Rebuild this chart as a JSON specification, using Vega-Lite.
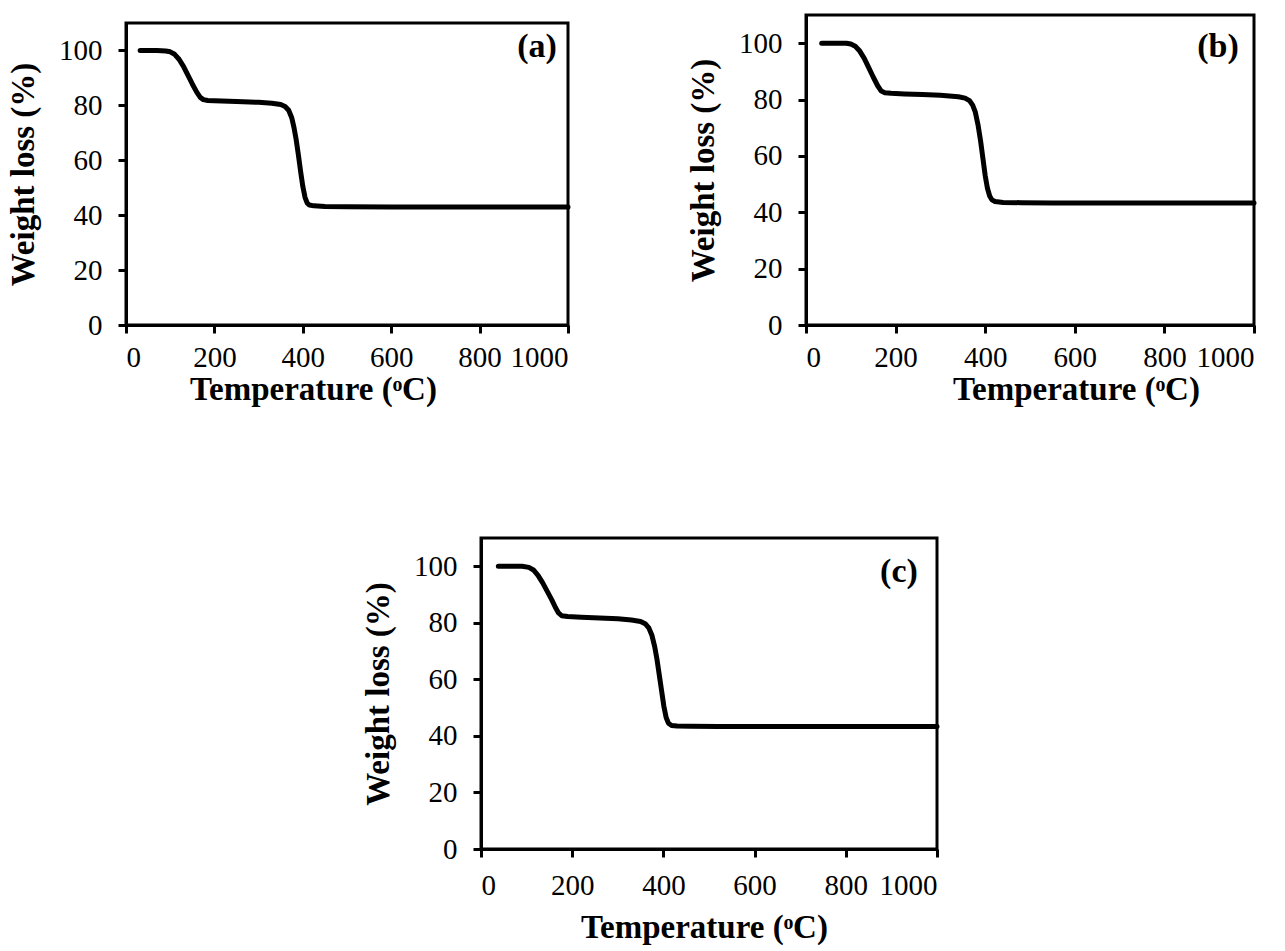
{
  "$schema": "https://vega.github.io/schema/vega-lite/v6.json",
  "padding": {"left": 6, "top": 13, "right": 0, "bottom": 0},
  "background": "white",
  "spacing": 128,
  "config": {
    "font": "Liberation Serif",
    "view": {"stroke": "black", "strokeWidth": 3},
    "axis": {"domainColor": "black", "domainWidth": 3, "tickColor": "black", "tickWidth": 3, "tickSize": 8, "labelFont": "Liberation Serif", "labelFontSize": 29, "labelColor": "black", "titleFont": "Liberation Serif", "titleFontSize": 33, "titleFontWeight": "bold", "titleColor": "black", "grid": false}
  },
  "datasets": {
    "a": [
      {"temperature": 32, "weight": 100}, {"temperature": 50, "weight": 100}, {"temperature": 70, "weight": 100}, {"temperature": 90, "weight": 99.8}, {"temperature": 100, "weight": 99.5}, {"temperature": 110, "weight": 98.6}, {"temperature": 120, "weight": 96.8}, {"temperature": 130, "weight": 94.2}, {"temperature": 140, "weight": 91}, {"temperature": 150, "weight": 87.8}, {"temperature": 160, "weight": 84.8}, {"temperature": 168, "weight": 82.9}, {"temperature": 175, "weight": 82.1}, {"temperature": 185, "weight": 81.8}, {"temperature": 200, "weight": 81.7}, {"temperature": 250, "weight": 81.4}, {"temperature": 300, "weight": 81.1}, {"temperature": 330, "weight": 80.8}, {"temperature": 350, "weight": 80.3}, {"temperature": 360, "weight": 79.6}, {"temperature": 368, "weight": 78.2}, {"temperature": 375, "weight": 75.5}, {"temperature": 380, "weight": 72}, {"temperature": 385, "weight": 67.5}, {"temperature": 390, "weight": 62}, {"temperature": 395, "weight": 56}, {"temperature": 400, "weight": 50.5}, {"temperature": 405, "weight": 46.5}, {"temperature": 410, "weight": 44.4}, {"temperature": 415, "weight": 43.7}, {"temperature": 425, "weight": 43.4}, {"temperature": 450, "weight": 43.2}, {"temperature": 500, "weight": 43.1}, {"temperature": 600, "weight": 43}, {"temperature": 700, "weight": 43}, {"temperature": 800, "weight": 43}, {"temperature": 900, "weight": 43}, {"temperature": 1000, "weight": 43}
    ],
    "b": [
      {"temperature": 35, "weight": 100}, {"temperature": 60, "weight": 100}, {"temperature": 90, "weight": 100}, {"temperature": 100, "weight": 99.7}, {"temperature": 110, "weight": 98.9}, {"temperature": 120, "weight": 97.2}, {"temperature": 130, "weight": 94.6}, {"temperature": 140, "weight": 91.3}, {"temperature": 150, "weight": 88}, {"temperature": 160, "weight": 84.9}, {"temperature": 168, "weight": 83}, {"temperature": 176, "weight": 82.4}, {"temperature": 190, "weight": 82.2}, {"temperature": 220, "weight": 82}, {"temperature": 260, "weight": 81.8}, {"temperature": 300, "weight": 81.5}, {"temperature": 340, "weight": 81}, {"temperature": 355, "weight": 80.5}, {"temperature": 365, "weight": 79.6}, {"temperature": 372, "weight": 78}, {"temperature": 378, "weight": 75.5}, {"temperature": 384, "weight": 71}, {"temperature": 390, "weight": 65}, {"temperature": 395, "weight": 59}, {"temperature": 400, "weight": 53}, {"temperature": 405, "weight": 48.5}, {"temperature": 410, "weight": 45.8}, {"temperature": 415, "weight": 44.4}, {"temperature": 422, "weight": 43.8}, {"temperature": 440, "weight": 43.5}, {"temperature": 480, "weight": 43.4}, {"temperature": 550, "weight": 43.3}, {"temperature": 650, "weight": 43.3}, {"temperature": 800, "weight": 43.3}, {"temperature": 900, "weight": 43.3}, {"temperature": 1000, "weight": 43.3}
    ],
    "c": [
      {"temperature": 38, "weight": 100}, {"temperature": 60, "weight": 100}, {"temperature": 90, "weight": 100}, {"temperature": 105, "weight": 99.6}, {"temperature": 115, "weight": 98.7}, {"temperature": 125, "weight": 96.8}, {"temperature": 135, "weight": 94.2}, {"temperature": 145, "weight": 91.2}, {"temperature": 155, "weight": 88.2}, {"temperature": 163, "weight": 85.5}, {"temperature": 170, "weight": 83.5}, {"temperature": 177, "weight": 82.5}, {"temperature": 190, "weight": 82.2}, {"temperature": 220, "weight": 82}, {"temperature": 260, "weight": 81.7}, {"temperature": 300, "weight": 81.4}, {"temperature": 330, "weight": 81}, {"temperature": 350, "weight": 80.5}, {"temperature": 360, "weight": 79.7}, {"temperature": 368, "weight": 78.2}, {"temperature": 375, "weight": 75.5}, {"temperature": 381, "weight": 71.5}, {"temperature": 386, "weight": 67}, {"temperature": 391, "weight": 61.5}, {"temperature": 396, "weight": 56}, {"temperature": 401, "weight": 50.5}, {"temperature": 406, "weight": 46.5}, {"temperature": 411, "weight": 44.5}, {"temperature": 418, "weight": 43.7}, {"temperature": 430, "weight": 43.5}, {"temperature": 460, "weight": 43.4}, {"temperature": 520, "weight": 43.3}, {"temperature": 650, "weight": 43.3}, {"temperature": 800, "weight": 43.3}, {"temperature": 1000, "weight": 43.3}
    ]
  },
  "vconcat": [
    {
      "spacing": 114,
      "hconcat": [
        {
          "spacing": 5,
          "vconcat": [
            {
              "width": 100, "height": 1,
              "view": {"stroke": null},
              "data": {"values": [{"label": ""}]},
              "mark": {"type": "point", "opacity": 0, "size": 0},
              "encoding": {}
            },
            {
              "width": 442, "height": 302,
              "layer": [
                {
                  "data": {"name": "a"},
                  "mark": {"type": "line", "color": "black", "strokeWidth": 5, "strokeCap": "round", "strokeJoin": "round"},
                  "encoding": {
                    "x": {"field": "temperature", "type": "quantitative", "scale": {"domain": [0, 1000], "nice": false}, "axis": {"values": [0, 200, 400, 600, 800, 1000], "format": "d", "title": "Temperature (ᵒC)", "labelPadding": 10, "titlePadding": 1, "titleX": 187}},
                    "y": {"field": "weight", "type": "quantitative", "scale": {"domain": [0, 110], "nice": false}, "axis": {"values": [0, 20, 40, 60, 80, 100], "title": "Weight loss (%)", "labelPadding": 16, "titlePadding": 18}}
                  }
                },
                {
                  "data": {"values": [{"label": "(a)"}]},
                  "mark": {"type": "text", "fontSize": 34, "fontWeight": "bold", "align": "right", "baseline": "alphabetic", "font": "Liberation Serif", "color": "black"},
                  "encoding": {"text": {"field": "label"}, "x": {"datum": 975, "type": "quantitative"}, "y": {"datum": 97.5, "type": "quantitative"}}
                }
              ]
            }
          ]
        },
        {
          "width": 448, "height": 310,
          "layer": [
            {
              "data": {"name": "b"},
              "mark": {"type": "line", "color": "black", "strokeWidth": 5, "strokeCap": "round", "strokeJoin": "round"},
              "encoding": {
                "x": {"field": "temperature", "type": "quantitative", "scale": {"domain": [0, 1000], "nice": false}, "axis": {"values": [0, 200, 400, 600, 800, 1000], "format": "d", "title": "Temperature (ᵒC)", "labelPadding": 10, "titlePadding": 1, "titleX": 270}},
                "y": {"field": "weight", "type": "quantitative", "scale": {"domain": [0, 110], "nice": false}, "axis": {"values": [0, 20, 40, 60, 80, 100], "title": "Weight loss (%)", "labelPadding": 16, "titlePadding": 18}}
              }
            },
            {
              "data": {"values": [{"label": "(b)"}]},
              "mark": {"type": "text", "fontSize": 34, "fontWeight": "bold", "align": "right", "baseline": "alphabetic", "font": "Liberation Serif", "color": "black"},
              "encoding": {"text": {"field": "label"}, "x": {"datum": 966, "type": "quantitative"}, "y": {"datum": 95, "type": "quantitative"}}
            }
          ]
        }
      ]
    },
    {
      "spacing": 20,
      "hconcat": [
        {
          "width": 215, "height": 10,
          "view": {"stroke": null},
          "data": {"values": [{"label": ""}]},
          "mark": {"type": "point", "opacity": 0, "size": 0},
          "encoding": {}
        },
        {
          "width": 456, "height": 311,
          "layer": [
            {
              "data": {"name": "c"},
              "mark": {"type": "line", "color": "black", "strokeWidth": 5, "strokeCap": "round", "strokeJoin": "round"},
              "encoding": {
                "x": {"field": "temperature", "type": "quantitative", "scale": {"domain": [0, 1000], "nice": false}, "axis": {"values": [0, 200, 400, 600, 800, 1000], "format": "d", "title": "Temperature (ᵒC)", "labelPadding": 14, "titlePadding": 11, "titleX": 223}},
                "y": {"field": "weight", "type": "quantitative", "scale": {"domain": [0, 110], "nice": false}, "axis": {"values": [0, 20, 40, 60, 80, 100], "title": "Weight loss (%)", "labelPadding": 16, "titlePadding": 18}}
              }
            },
            {
              "data": {"values": [{"label": "(c)"}]},
              "mark": {"type": "text", "fontSize": 34, "fontWeight": "bold", "align": "right", "baseline": "alphabetic", "font": "Liberation Serif", "color": "black"},
              "encoding": {"text": {"field": "label"}, "x": {"datum": 958, "type": "quantitative"}, "y": {"datum": 94.5, "type": "quantitative"}}
            }
          ]
        }
      ]
    }
  ]
}
